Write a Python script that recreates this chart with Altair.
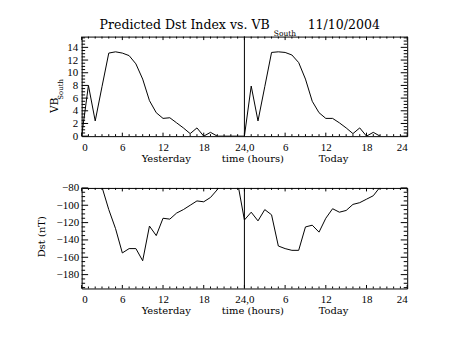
import json
import altair as alt
import pandas as pd

# ---------------- data ----------------
hours_vb = list(range(0, 45))
vb_south = [0.0, 8.0, 2.4, 7.8, 13.1, 13.3, 13.1, 12.7, 11.4, 9.0, 5.6, 3.7, 2.8, 2.9, 2.1, 1.3, 0.4, 1.3, 0.0, 0.6, 0.0, 0.0, 0.0, 0.0,
            0.0, 7.9, 2.4, 7.8, 13.2, 13.3, 13.2, 12.8, 11.6, 9.0, 5.5, 3.7, 2.8, 2.8, 2.1, 1.3, 0.4, 1.3, 0.0, 0.6, 0.0]

hours_dst = list(range(3, 45))
dst = [-79, -105, -127, -155, -150, -150, -164, -124, -135, -115, -116, -109, -105, -100, -95, -96, -91, -82, -72, -70, -74,
       -117, -108, -118, -105, -111, -147, -150, -152, -152, -125, -123, -131, -115, -104, -108, -106, -99, -97, -93, -89, -79]

x_domain = [0, 48]
x_tick_values = [0, 6, 12, 18, 24, 30, 36, 42, 48]
x_tick_labels = ["0", "6", "12", "18", "24,0", "6", "12", "18", "24"]
x_minor = [h for h in range(0, 49) if h % 6 != 0]
day_break = [24]

vb_domain = [0, 15.7]
vb_ticks = [0, 2, 4, 6, 8, 10, 12, 14]
vb_minor = [v / 2 for v in range(0, 32) if v % 4 != 0]

dst_domain = [-196, -80]
dst_ticks = [-80, -100, -120, -140, -160, -180]
dst_minor = [v for v in range(-195, -79, 5) if v % 20 != 0]

title_parts = ["Predicted Dst Index vs. VB", "South", "11/10/2004"]
x_titles = ["Yesterday", "time (hours)", "Today"]
vb_title = ["VB", "South"]
dst_title = "Dst (nT)"

FONT = "DejaVu Serif"
LFONT = "Liberation Serif"
W = 327
H_TOP = 100
H_BOT = 101
GAP = 52
PAD_L, PAD_T, PAD_R, PAD_B = 81, 35, 45, 52
XMAJ, XMIN, YMAJ, YMIN = 3.5, 2, 6.5, 3.5

label_expr = f"{json.dumps(x_tick_labels)}[indexof({json.dumps(x_tick_values)}, datum.value)]"

X_AXIS = alt.Axis(values=x_tick_values, labelExpr=label_expr, ticks=False, tickSize=0,
                  domain=False, grid=False, title=None, labelPadding=5,
                  labelFont=LFONT, labelFontSize=11, labelColor="black", labelOverlap=False)


def y_axis(ticks, pad):
    return alt.Axis(values=ticks, ticks=False, tickSize=0, domain=False, grid=False,
                    title=None, labelPadding=pad, labelFont=LFONT, labelFontSize=11,
                    labelColor="black", labelOverlap=False)


def xscale():
    return alt.Scale(domain=x_domain, nice=False, zero=False)


def anchor(x, y):
    # invisible (white) point that fixes the outer bounds of the figure
    return alt.Chart(pd.DataFrame({"a": [0]})).mark_rule(color="white", strokeWidth=0.01).encode(
        x=alt.value(x), x2=alt.value(x + 0.01), y=alt.value(y), y2=alt.value(y + 0.01))


def panel(hours, values, ydomain, yticks, yminor, height, ypad, extra_layers):
    yscale = alt.Scale(domain=ydomain, nice=False, zero=False)
    yax = y_axis(yticks, ypad)
    X = lambda: alt.X("hour:Q", scale=xscale(), axis=X_AXIS)
    Y = lambda: alt.Y("val:Q", scale=yscale, axis=yax)
    df = pd.DataFrame({"hour": hours, "val": values})
    layers = [alt.Chart(df).mark_line(color="black", strokeWidth=1, clip=True).encode(x=X(), y=Y())]
    layers.append(alt.Chart(pd.DataFrame({"hour": day_break})).mark_rule(color="black", strokeWidth=1).encode(
        x=X(), y=alt.value(0), y2=alt.value(height)))
    for vals, ln in ((x_tick_values, XMAJ), (x_minor, XMIN)):
        d = pd.DataFrame({"hour": vals})
        layers.append(alt.Chart(d).mark_rule(color="black", strokeWidth=1).encode(
            x=X(), y=alt.value(height), y2=alt.value(height - ln)))
        layers.append(alt.Chart(d).mark_rule(color="black", strokeWidth=1).encode(
            x=X(), y=alt.value(0), y2=alt.value(ln)))
    for vals, ln in ((yticks, YMAJ), (yminor, YMIN)):
        d = pd.DataFrame({"val": vals})
        layers.append(alt.Chart(d).mark_rule(color="black", strokeWidth=1).encode(
            y=Y(), x=alt.value(0), x2=alt.value(ln)))
        layers.append(alt.Chart(d).mark_rule(color="black", strokeWidth=1).encode(
            y=Y(), x=alt.value(W), x2=alt.value(W - ln)))
    for txt, xc in zip(x_titles, (85, 172, 253)):
        layers.append(alt.Chart(pd.DataFrame({"t": [txt]})).mark_text(
            font=FONT, fontSize=10, color="black", align="center", baseline="middle").encode(
            x=alt.value(xc), y=alt.value(height + 23), text="t:N"))
    layers.extend(extra_layers)
    return alt.layer(*layers).properties(width=W, height=height)


def text_layer(txt, x, y, size, align="left", baseline="alphabetic", angle=0):
    kw = dict(font=FONT, fontSize=size, color="black", align=align, baseline=baseline)
    if angle:
        kw["angle"] = angle
    return alt.Chart(pd.DataFrame({"t": [txt]})).mark_text(**kw).encode(
        x=alt.value(x), y=alt.value(y), text="t:N")


top_extra = [
    anchor(-PAD_L, -PAD_T),
    text_layer(title_parts[0], 18, -8, 12.6),
    text_layer(title_parts[1], 193, -1, 7.5),
    text_layer(title_parts[2], 227, -8, 12.6),
    text_layer(vb_title[0], -27, 69, 10.5, align="center", baseline="middle", angle=270),
    text_layer(vb_title[1], -21, 53, 7, align="center", baseline="middle", angle=270),
]
bot_extra = [
    anchor(W + PAD_R - 0.02, H_BOT + PAD_B - 0.02),
    text_layer(dst_title, -40, 49, 10, align="center", baseline="middle", angle=270),
]

top = panel(hours_vb, vb_south, vb_domain, vb_ticks, vb_minor, H_TOP, 4, top_extra)
bottom = panel(hours_dst, dst, dst_domain, dst_ticks, dst_minor, H_BOT, 3, bot_extra)

chart = alt.vconcat(top, bottom, spacing=GAP, bounds="flush").properties(
    padding=0,
    background="white",
).configure_view(stroke="black", strokeWidth=1)

chart.save("out.html", embed_options={"renderer": "svg", "actions": False})
